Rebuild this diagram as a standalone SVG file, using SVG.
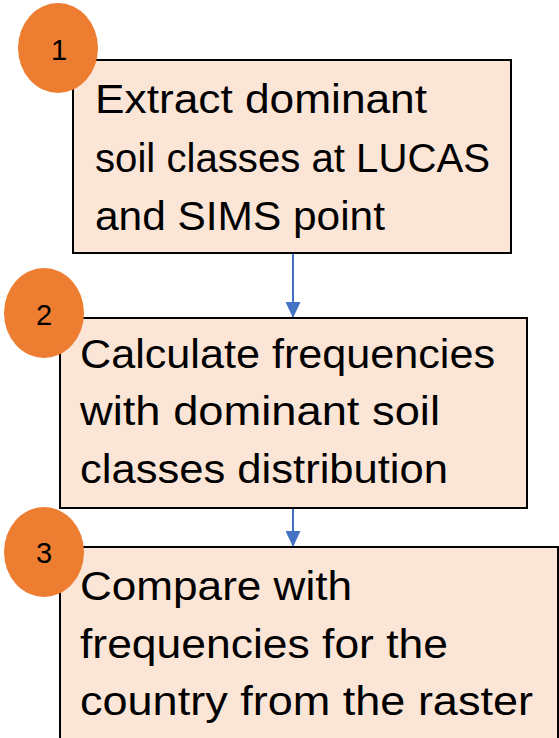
<svg xmlns="http://www.w3.org/2000/svg" width="559" height="738" viewBox="0 0 559 738">
  <defs>
    <marker id="arrow" markerWidth="16" markerHeight="15" refX="16" refY="7.5" orient="auto" markerUnits="userSpaceOnUse">
      <path d="M0,0 L16,7.5 L0,15 Z" fill="#4472C4"/>
    </marker>
    <style>
      .box { fill: #FBE5D6; stroke: #000; stroke-width: 2; }
      .badge { fill: #ED7D31; }
      .label { font-family: "Liberation Sans", Arial, sans-serif; font-size: 40px; fill: #000; }
      .num { font-family: "Liberation Sans", Arial, sans-serif; font-size: 29px; fill: #000; text-anchor: middle; }
      .conn { stroke: #4472C4; stroke-width: 2; fill: none; marker-end: url(#arrow); }
    </style>
  </defs>
  <rect width="559" height="738" fill="#fff"/>

  <!-- connectors -->
  <g id="connectors">
    <line class="conn" x1="293" y1="253" x2="293" y2="318"/>
    <line class="conn" x1="293" y1="508" x2="293" y2="547"/>
  </g>

  <!-- step 1 -->
  <g id="step1">
    <rect class="box" x="73" y="60" width="438" height="193"/>
    <text class="label" x="95" y="113" textLength="332" lengthAdjust="spacingAndGlyphs">Extract dominant</text>
    <text class="label" x="95" y="172" textLength="395" lengthAdjust="spacingAndGlyphs">soil classes at LUCAS</text>
    <text class="label" x="95" y="230" textLength="290" lengthAdjust="spacingAndGlyphs">and SIMS point</text>
    <ellipse class="badge" cx="58" cy="48" rx="40" ry="45"/>
    <text class="num" x="59" y="60">1</text>
  </g>

  <!-- step 2 -->
  <g id="step2">
    <rect class="box" x="60" y="318" width="467" height="190"/>
    <text class="label" x="80" y="368" textLength="415" lengthAdjust="spacingAndGlyphs">Calculate frequencies</text>
    <text class="label" x="80" y="425" textLength="360" lengthAdjust="spacingAndGlyphs">with dominant soil</text>
    <text class="label" x="80" y="483" textLength="368" lengthAdjust="spacingAndGlyphs">classes distribution</text>
    <ellipse class="badge" cx="44" cy="313" rx="40" ry="45"/>
    <text class="num" x="44" y="325">2</text>
  </g>

  <!-- step 3 -->
  <g id="step3">
    <rect class="box" x="60" y="547" width="498" height="220"/>
    <text class="label" x="80" y="600" textLength="272" lengthAdjust="spacingAndGlyphs">Compare with</text>
    <text class="label" x="80" y="658" textLength="368" lengthAdjust="spacingAndGlyphs">frequencies for the</text>
    <text class="label" x="80" y="715" textLength="453" lengthAdjust="spacingAndGlyphs">country from the raster</text>
    <ellipse class="badge" cx="44" cy="552" rx="40" ry="45"/>
    <text class="num" x="44" y="563">3</text>
  </g>
</svg>
